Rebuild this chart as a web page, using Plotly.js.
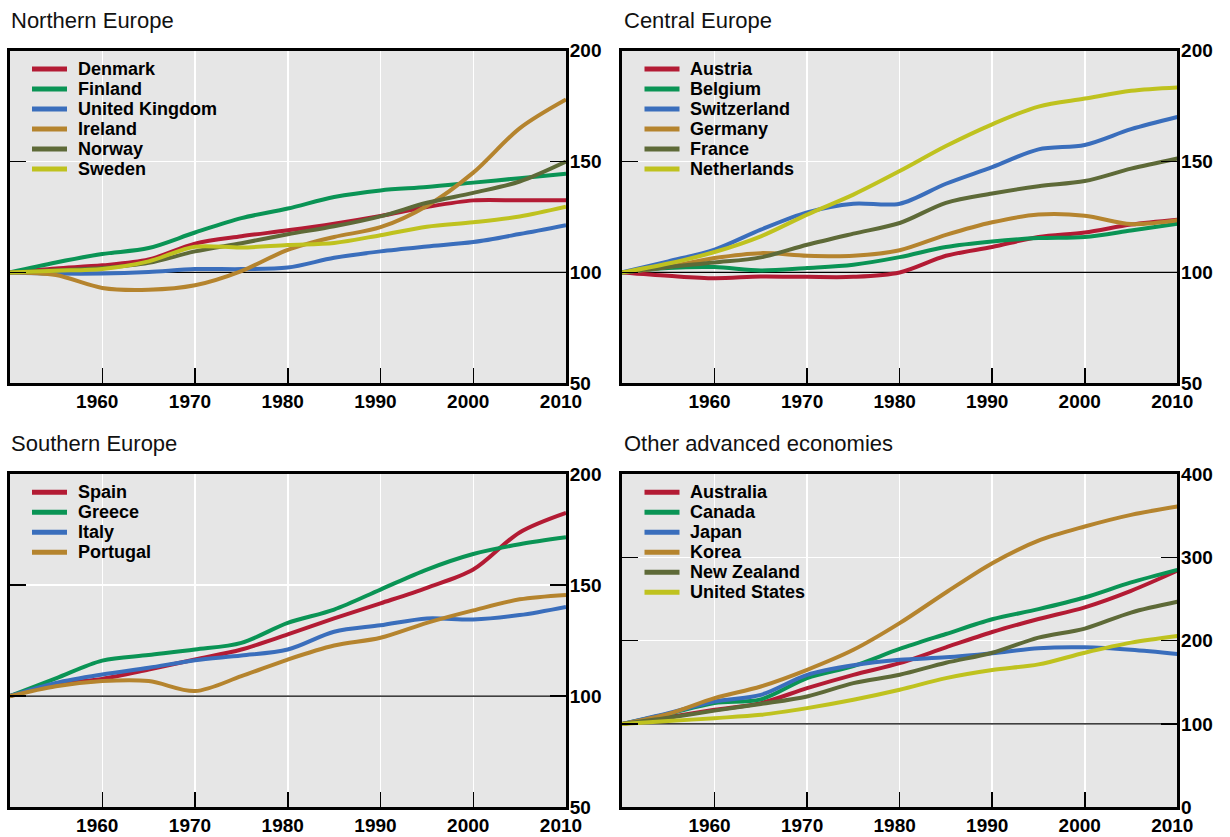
<!DOCTYPE html>
<html><head><meta charset="utf-8">
<script src="https://cdn.plot.ly/plotly-3.0.1.min.js"></script>
<style>body{margin:0;background:#fff}</style>
</head><body><div id="chart" style="width:1230px;height:837px"></div>
<script>
// ---- data ----
const years = [1950,1955,1960,1965,1970,1975,1980,1985,1990,1995,2000,2005,2010];

const northTitle = "Northern Europe";
const northNames = ["Denmark","Finland","United Kingdom","Ireland","Norway","Sweden"];
const denmark  = [100,101.8,103.2,105.8,113,116.3,119,122,125.5,129.5,132.5,132.5,132.5];
const finland  = [100,104.5,108.3,111,118,124.5,128.8,134,137,138.5,140.5,142.5,144.5];
const uk       = [100,99.5,99.5,100.2,101.5,101.5,102.2,106.6,109.5,111.7,113.7,117.3,121.3];
const ireland  = [100,98.8,93,92.2,94.2,100.6,110.2,116,120.4,130,145,165,178];
const norway   = [100,101,102,104.3,109.5,113.2,117.2,120.8,125.3,131.4,135.9,141,150];
const sweden   = [100,100.8,101.6,105,111.6,111.2,112.4,113.3,116.8,120.6,122.6,125.2,129.6];

const centralTitle = "Central Europe";
const centralNames = ["Austria","Belgium","Switzerland","Germany","France","Netherlands"];
const austria     = [100,98.5,97.4,98.2,98,98,100,107.5,111.5,116,118,121.6,123.8];
const belgium     = [100,102,102.4,100.9,102,103.5,106.9,111.5,114,115.5,116,118.9,122];
const switzerland = [100,105,110.3,119.3,127.1,131,131,140,147.5,155.5,157.5,164.6,170.1];
const germany     = [100,102.5,106.5,108.7,107.5,107.5,110,116.9,122.6,126.1,125.6,121.8,123.5];
const france      = [100,102.5,104.5,106.8,112.5,117.5,122.3,131.4,135.6,138.9,141.2,146.8,151.4];
const netherlands = [100,104,109.2,116.3,126.1,135.1,145.7,157,166.8,174.8,178.4,181.9,183.4];

const southTitle = "Southern Europe";
const southNames = ["Spain","Greece","Italy","Portugal"];
const spain    = [100,105.3,107.8,112,116.5,121,127.8,135,141.8,148.8,157,173.7,182.5];
const greece   = [100,108,116,118.5,121,124,133,139,148,157,164,168.4,171.5];
const italy    = [100,106,109.8,112.8,116.2,118.3,121,129,131.9,135,134.5,136.5,140.2];
const portugal = [100,104.5,106.8,106.8,102.3,109,116.5,122.8,126.3,133,138.6,143.6,145.6];

const otherTitle = "Other advanced economies";
const otherNames = ["Australia","Canada","Japan","Korea","New Zealand","United States"];
const australia  = [100,108,117,125,143,159,173,192,210.4,226,240,259.8,283.9];
const canada     = [100,112,125,129.5,155,169.5,190,208,225.7,237.8,251.8,269.9,285];
const japan      = [100,113,127,135,159,170.5,177,180,185,191,192,189,184];
const korea      = [100,112,131,145,165,189,221,257.8,293,320,337,351,361];
const newzealand = [100,107.5,116,124,133,149,159,173.5,185.5,203.6,214.5,233.7,246.6];
const us         = [100,103.5,107,111,119,129,141,155,164.7,171.5,185.5,197.6,205.6];

const xTicks = [1960,1970,1980,1990,2000,2010];
const yTicksEurope = [50,100,150,200];
const yTicksOther = [0,100,200,300,400];
const baseline = 100;

// ---- styles ----
const colors = ['#b31b34','#0a9455','#3a6ebc','#b5842e','#5e6a38','#bfc21f'];
const W = 1230, H = 837;
const panels = [
  {title: northTitle,   names: northNames,   series: [denmark,finland,uk,ireland,norway,sweden], x:'x',  y:'y',  px:[9.5,566],   py:[50.7,383.3], yr:[50,200], yt: yTicksEurope},
  {title: centralTitle, names: centralNames, series: [austria,belgium,switzerland,germany,france,netherlands], x:'x2', y:'y2', px:[622,1177.3], py:[50.7,383.3], yr:[50,200], yt: yTicksEurope},
  {title: southTitle,   names: southNames,   series: [spain,greece,italy,portugal], x:'x3', y:'y3', px:[9.5,566],   py:[474,807.3], yr:[50,200], yt: yTicksEurope},
  {title: otherTitle,   names: otherNames,   series: [australia,canada,japan,korea,newzealand,us], x:'x4', y:'y4', px:[622,1177.3], py:[474,807.3], yr:[0,400], yt: yTicksOther}
];

const traces = [];
const layout = {
  width: W, height: H,
  margin: {l:0, r:0, t:0, b:0},
  paper_bgcolor: '#ffffff',
  plot_bgcolor: '#e6e6e6',
  showlegend: false,
  font: {family: 'Liberation Sans, Arial, sans-serif', color: '#000'},
  annotations: [],
  shapes: []
};

panels.forEach((p, k) => {
  const ax = k === 0 ? '' : String(k+1);
  layout['xaxis'+ax] = {
    domain: [p.px[0]/W, p.px[1]/W], anchor: p.y,
    range: [1950, 2010], tickvals: xTicks, ticktext: xTicks.map(String),
    ticks: 'inside', ticklen: 15, tickwidth: 1.5, tickcolor: '#000',
    showgrid: true, gridcolor: '#ffffff', gridwidth: 1.5,
    showline: true, linewidth: 3, linecolor: '#000', mirror: true,
    zeroline: false, fixedrange: true, ticklabelshift: -5, ticklabelstandoff: -1,
    tickfont: {size: 19, weight: 'bold', color: '#000'}
  };
  layout['yaxis'+ax] = {
    domain: [1-p.py[1]/H, 1-p.py[0]/H], anchor: p.x, side: 'right',
    range: p.yr, tickvals: p.yt, ticktext: p.yt.map(String),
    ticks: 'inside', ticklen: 16, tickwidth: 1.5, tickcolor: '#000',
    showgrid: true, gridcolor: '#ffffff', gridwidth: 1.5,
    showline: true, linewidth: 3, linecolor: '#000', mirror: 'ticks',
    zeroline: false, fixedrange: true, ticklabelstandoff: -3,
    tickfont: {size: 19, weight: 'bold', color: '#000'}
  };
  // reference line at the base index value, between gridlines and data
  layout.shapes.push({type:'line', xref: p.x, yref: p.y, x0:1950, x1:2010, y0:baseline, y1:baseline,
    line:{color:'#000', width:1.3}, layer:'between'});
  // data
  p.series.forEach((s, i) => {
    traces.push({x: years, y: s, name: p.names[i], type:'scatter', mode:'lines',
      xaxis: p.x, yaxis: p.y, line: {color: colors[i], width: 4, shape:'spline', smoothing: 0.9},
      hoverinfo: 'x+y+name'});
  });
  // custom legend (tight line spacing like the reference)
  p.names.forEach((n, i) => {
    const yy = 1-(p.py[0]+18.3+20*i)/H;
    layout.shapes.push({type:'line', xref: 'paper', yref: 'paper',
      x0: (p.px[0]+22.5)/W, x1: (p.px[0]+57.5)/W, y0: yy, y1: yy,
      line:{color: colors[i], width: 5}, layer:'above'});
    layout.annotations.push({xref: 'paper', yref: 'paper', x: (p.px[0]+66)/W, y: yy,
      xanchor:'left', yanchor:'middle', showarrow:false, text: n,
      font:{size:18, weight:'bold', color:'#000'}});
  });
  // panel title
  layout.annotations.push({xref:'paper', yref:'paper', x: (p.px[0]-0.5)/W, y: 1-(p.py[0]-30.5)/H,
    xanchor:'left', yanchor:'middle', showarrow:false, text: p.title,
    font:{size:22, color:'#111'}});
});

Plotly.newPlot('chart', traces, layout, {displayModeBar:false, staticPlot:true});
</script>
</body></html>
